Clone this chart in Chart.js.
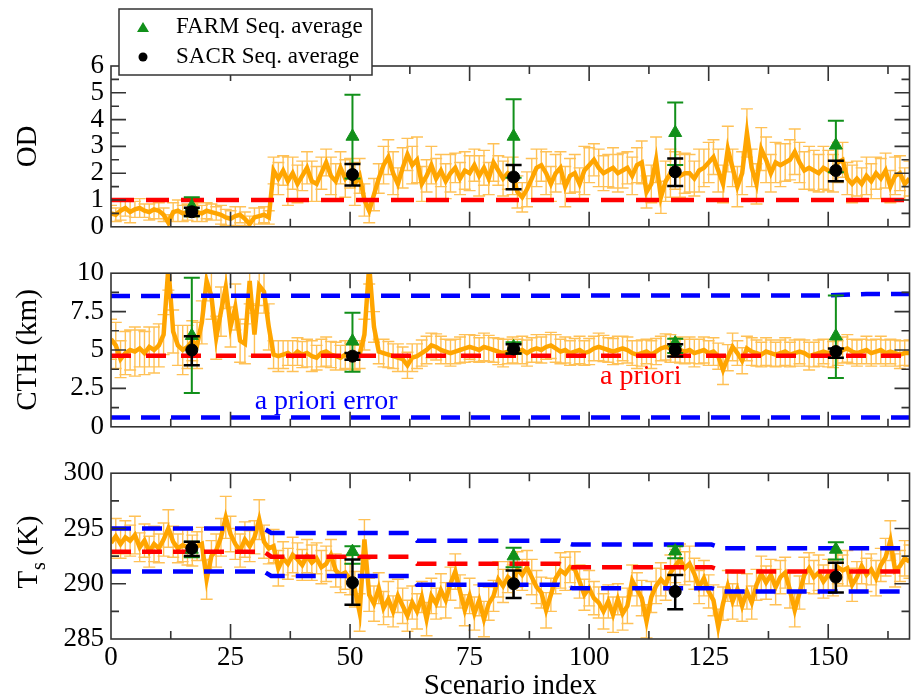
<!DOCTYPE html>
<html>
<head>
<meta charset="utf-8">
<script src="https://cdn.jsdelivr.net/npm/chart.js@4"></script>
<style>
    html, body { margin: 0; padding: 0; background: #fff; overflow: hidden; }
    #wrap { position: relative; width: 918px; height: 699px; }
    canvas { position: absolute; left: 0; }
</style>
</head>
<body>
<div id="wrap">
    <canvas id="odChart" width="918" height="250" style="top:0px"></canvas>
    <canvas id="cthChart" width="918" height="200" style="top:250px"></canvas>
    <canvas id="tsChart" width="918" height="249" style="top:450px"></canvas>
</div>
<script>
// ---- data ----
const scenarioIndex = [];
for (let i = 0; i < 168; i++) scenarioIndex.push(i);

const odValues = [
    0.50, 0.45, 0.60, 0.70, 0.55, 0.65, 0.70, 0.60, 0.55, 0.65, 0.60, 0.45,
    0.15, 0.55, 0.60, 0.50, 0.55, 0.60, 0.55, 0.50, 0.60, 0.55, 0.50, 0.45,
    0.35, 0.30, 0.40, 0.45, 0.30, 0.10, 0.35, 0.40, 0.45, 0.35, 2.10, 1.80,
    2.10, 1.70, 2.00, 1.60, 1.90, 2.20, 1.70, 1.60, 2.00, 2.40, 1.90, 1.70,
    2.20, 1.80, 2.00, 1.60, 1.90, 1.00, 0.60, 1.20, 1.80, 2.30, 2.60, 2.00,
    1.60, 2.20, 2.70, 2.30, 2.50, 1.60, 1.90, 2.30, 1.80, 2.10, 1.70, 2.00,
    2.20, 1.80, 2.10, 2.00, 2.30, 1.90, 2.20, 1.80, 2.40, 2.10, 1.80, 2.00,
    1.90, 1.30, 1.10, 1.40, 1.80, 2.20, 2.30, 2.00, 1.60, 2.00, 2.20, 1.50,
    1.90, 2.00, 1.60, 2.10, 2.30, 2.50, 2.20, 2.00, 2.10, 2.20, 2.00, 2.10,
    2.20, 1.90, 2.30, 2.40, 1.30, 1.60, 2.50, 1.10, 1.70, 2.00, 2.10, 1.90,
    2.00, 2.00, 1.80, 2.10, 2.20, 2.40, 2.60, 2.10, 1.60, 2.90, 2.20, 1.50,
    2.00, 3.50, 2.20, 1.60, 2.90, 2.50, 2.00, 2.40, 2.30, 2.40, 2.50, 2.80,
    2.40, 2.10, 2.20, 2.10, 2.00, 2.20, 2.10, 2.00, 2.40, 2.50, 1.80, 1.60,
    1.80, 1.60, 1.90, 1.70, 2.00, 1.80, 2.10, 1.50, 1.90, 2.00, 1.60, 1.80
];
const odErrors = [
    0.30, 0.25, 0.35, 0.30, 0.40, 0.30, 0.35, 0.25, 0.30, 0.35, 0.30, 0.25,
    0.30, 0.35, 0.40, 0.30, 0.30, 0.25, 0.35, 0.30, 0.30, 0.30, 0.25, 0.35,
    0.30, 0.30, 0.35, 0.30, 0.25, 0.30, 0.35, 0.30, 0.30, 0.25, 0.50, 0.60,
    0.55, 0.90, 0.60, 0.70, 0.55, 0.60, 0.75, 0.65, 0.60, 0.50, 0.70, 0.65,
    0.60, 0.70, 0.55, 0.80, 0.65, 0.60, 0.45, 0.60, 0.55, 0.70, 0.65, 0.80,
    0.60, 0.75, 0.60, 0.70, 0.85, 0.65, 0.60, 0.70, 0.75, 0.60, 0.65, 0.70,
    0.55, 0.60, 0.70, 0.65, 0.60, 0.75, 0.65, 0.60, 0.70, 0.55, 0.65, 0.60,
    0.70, 0.60, 0.55, 0.65, 0.75, 0.70, 0.60, 0.80, 0.65, 0.70, 0.60, 0.75,
    0.65, 0.70, 0.60, 0.90, 0.65, 0.60, 0.70, 0.65, 0.60, 0.75, 0.70, 0.65,
    0.60, 0.70, 0.65, 0.80, 0.60, 0.70, 0.85, 0.60, 0.75, 0.90, 0.70, 0.80,
    0.75, 0.70, 0.65, 0.80, 0.70, 0.75, 0.65, 0.80, 0.70, 0.85, 0.70, 0.75,
    0.80, 0.90, 0.70, 0.75, 0.80, 0.85, 0.70, 0.75, 0.80, 0.70, 0.75, 0.85,
    0.75, 0.70, 0.80, 0.75, 0.70, 0.80, 0.75, 0.70, 0.75, 0.65, 0.60, 0.70,
    0.65, 0.60, 0.70, 0.65, 0.60, 0.75, 0.65, 0.60, 0.70, 0.65, 0.60, 0.65
];

const cthValues = [
    5.70, 5.30, 4.40, 4.80, 5.00, 4.90, 5.10, 4.80, 5.20, 5.00, 5.30, 6.00,
    10.40, 6.20, 5.30, 5.00, 5.20, 5.60, 5.30, 6.80, 9.50, 8.50, 5.80, 7.50,
    9.10, 6.50, 7.80, 5.60, 5.40, 9.50, 6.00, 9.20, 8.80, 6.50, 4.70, 4.60,
    4.70, 4.80, 4.60, 4.90, 4.70, 4.80, 4.60, 4.50, 4.80, 4.90, 4.70, 4.60,
    4.50, 4.70, 4.60, 4.50, 4.70, 6.00, 10.50, 6.50, 4.90, 4.80, 4.70, 4.60,
    4.50, 4.40, 4.00, 4.50, 4.60, 4.80, 5.00, 5.30, 5.20, 5.00, 4.90, 4.80,
    4.90, 5.00, 5.10, 5.20, 5.10, 5.00, 5.20, 5.10, 5.00, 4.90, 4.80, 4.90,
    5.00, 4.90, 5.00, 4.80, 5.00, 5.10, 5.00, 5.20, 5.30, 5.10, 4.90, 5.00,
    4.80, 4.90, 5.00, 4.80, 4.90, 5.10, 5.20, 5.10, 5.00, 4.90, 5.00, 5.10,
    5.00, 4.80, 4.70, 4.80, 4.90, 4.70, 4.90, 5.10, 5.20, 5.10, 5.00, 5.00,
    4.90, 5.00, 4.80, 4.90, 5.00, 4.80, 4.90, 4.60, 3.70, 4.50, 5.20, 4.80,
    4.30, 5.10, 4.90, 4.80, 4.70, 4.90, 4.80, 4.70, 4.80, 4.90, 4.70, 4.80,
    4.90, 4.80, 4.60, 4.70, 4.80, 4.90, 4.80, 4.70, 4.80, 5.00, 5.10, 4.90,
    4.80, 4.90, 5.00, 4.80, 4.90, 5.00, 4.80, 4.90, 4.80, 4.70, 4.80, 4.80
];
const cthErrors = [
    1.30, 1.50, 1.20, 1.40, 1.30, 1.60, 1.20, 1.40, 1.30, 1.50, 1.40, 1.30,
    1.50, 1.40, 1.30, 1.60, 1.40, 1.30, 1.50, 1.40, 1.30, 1.50, 1.40, 1.60,
    1.40, 1.30, 1.50, 1.40, 1.30, 1.50, 1.40, 1.30, 1.40, 1.50, 0.90, 1.00,
    0.90, 0.80, 1.00, 0.90, 0.85, 0.90, 1.00, 0.80, 0.90, 0.95, 0.85, 0.90,
    0.80, 0.90, 0.85, 0.80, 0.90, 1.00, 1.20, 1.00, 0.80, 0.90, 0.85, 0.80,
    0.90, 0.80, 0.85, 0.90, 0.80, 0.85, 0.90, 0.80, 0.85, 0.90, 0.80, 0.85,
    0.80, 0.85, 0.90, 0.80, 0.85, 0.80, 0.90, 0.85, 0.80, 0.85, 0.90, 0.80,
    0.85, 0.80, 0.90, 0.85, 0.80, 0.90, 0.85, 0.80, 0.85, 0.90, 0.80, 0.85,
    0.80, 0.85, 0.90, 0.80, 0.85, 0.80, 0.90, 0.85, 0.80, 0.85, 0.90, 0.80,
    0.85, 0.80, 0.90, 0.85, 0.80, 0.90, 0.85, 0.80, 0.85, 0.90, 0.80, 0.85,
    0.80, 0.85, 0.90, 0.80, 0.85, 0.80, 0.90, 0.85, 0.95, 0.85, 0.90, 0.80,
    0.85, 0.80, 0.90, 0.85, 0.80, 0.90, 0.85, 0.80, 0.85, 0.90, 0.80, 0.85,
    0.80, 0.85, 0.90, 0.80, 0.85, 0.80, 0.90, 0.85, 0.80, 0.85, 0.90, 0.80,
    0.85, 0.80, 0.90, 0.85, 0.80, 0.90, 0.85, 0.80, 0.85, 0.90, 0.80, 0.85
];

const tsValues = [
    293.7, 294.3, 293.6, 294.2, 293.9, 294.4, 293.3, 293.9, 292.9, 293.6, 293.2, 294.0,
    295.0, 293.8, 293.2, 293.5, 293.3, 293.0, 293.4, 293.6, 290.4, 292.5, 293.0, 294.2,
    296.0, 294.5, 293.6, 293.0, 294.0, 293.4, 294.2, 295.8, 293.8, 293.2, 293.4, 291.4,
    292.3, 291.8, 292.6, 292.2, 291.7, 292.5, 291.9, 292.3, 291.5, 291.8, 292.6, 291.2,
    290.8, 291.0, 290.4, 289.5, 287.4, 294.0, 289.0, 288.2, 289.6, 287.8, 288.6, 287.5,
    288.9, 288.0, 287.1, 288.3, 287.5, 288.8, 286.8, 288.9, 288.2, 289.4, 288.5, 290.0,
    291.1, 289.3, 287.6, 288.9, 287.3, 288.5, 286.8, 288.2, 288.9, 290.4, 289.8, 290.6,
    290.2, 291.3, 290.8, 291.5, 290.6, 289.7, 289.2, 287.6, 289.0, 290.5, 291.2, 290.9,
    291.5, 291.3, 290.2, 289.0, 289.6, 288.7, 288.3, 287.5, 288.4, 287.2, 288.6, 287.3,
    288.0, 290.3, 289.5, 288.7, 286.6, 288.8, 289.8, 290.4, 289.9, 291.0, 291.6, 292.2,
    291.4, 291.8, 290.9, 289.7, 290.5, 289.3, 288.5, 286.1, 288.2, 289.8, 288.4, 289.5,
    288.0, 289.3, 288.3, 289.9, 290.9, 290.1, 290.8, 289.7, 290.6, 291.0, 289.4, 287.6,
    289.2, 290.8, 291.4, 290.6, 291.0, 290.2, 290.8, 290.5, 291.5, 291.2, 291.4, 289.9,
    290.6, 291.6, 290.8, 291.3, 290.5, 291.7, 292.4, 293.9, 291.2, 291.6, 292.3, 292.0
];
const tsErrors = [
    1.4, 1.6, 1.3, 1.5, 1.4, 1.7, 1.3, 1.5, 1.4, 1.6, 1.3, 1.5,
    1.7, 1.4, 1.3, 1.5, 1.6, 1.4, 1.3, 1.5, 1.8, 1.4, 1.5, 1.7,
    1.9, 1.6, 1.4, 1.5, 1.6, 1.4, 1.5, 1.8, 1.5, 1.4, 1.5, 1.6,
    1.5, 1.4, 1.6, 1.5, 1.4, 1.5, 1.6, 1.4, 1.5, 1.6, 1.4, 1.5,
    1.6, 1.5, 1.4, 1.6, 1.7, 1.8, 1.5, 1.6, 1.4, 1.5, 1.6, 1.4,
    1.5, 1.6, 1.4, 1.5, 1.6, 1.4, 1.5, 1.6, 1.4, 1.5, 1.6, 1.5,
    1.6, 1.5, 1.4, 1.6, 1.5, 1.4, 1.6, 1.5, 1.4, 1.6, 1.5, 1.4,
    1.5, 1.6, 1.4, 1.5, 1.6, 1.5, 1.4, 1.6, 1.5, 1.4, 1.6, 1.5,
    1.4, 1.6, 1.5, 1.4, 1.6, 1.5, 1.4, 1.6, 1.5, 1.6, 1.4, 1.5,
    1.6, 1.4, 1.5, 1.6, 1.5, 1.4, 1.6, 1.5, 1.4, 1.6, 1.5, 1.4,
    1.5, 1.6, 1.4, 1.5, 1.6, 1.5, 1.4, 1.6, 1.5, 1.4, 1.6, 1.5,
    1.4, 1.6, 1.5, 1.4, 1.6, 1.5, 1.4, 1.6, 1.5, 1.4, 1.6, 1.5,
    1.5, 1.6, 1.4, 1.5, 1.6, 1.5, 1.4, 1.6, 1.5, 1.4, 1.6, 1.5,
    1.4, 1.6, 1.5, 1.4, 1.6, 1.5, 1.7, 1.8, 1.5, 1.4, 1.6, 1.5
];

// sequence averages
const seqIndex = [16.9, 50.5, 84.2, 118.0, 151.6];
const farmOd = [0.76, 3.37, 3.37, 3.51, 3.04];
const farmOdLow = [0.39, 1.80, 1.83, 2.31, 2.04];
const farmOdHigh = [1.10, 4.93, 4.76, 4.64, 3.96];
const sacrOd = [0.56, 1.95, 1.86, 2.05, 2.10];
const sacrOdLow = [0.40, 1.54, 1.40, 1.52, 1.70];
const sacrOdHigh = [0.71, 2.34, 2.31, 2.55, 2.46];

const farmCth = [5.93, 5.57, 5.20, 5.45, 5.90];
const farmCthLow = [2.20, 3.58, 4.75, 4.80, 3.18];
const farmCthHigh = [9.70, 7.43, 5.50, 5.73, 8.55];
const sacrCth = [5.00, 4.60, 5.07, 5.00, 4.90];
const sacrCthLow = [4.00, 4.37, 4.77, 4.58, 4.50];
const sacrCthHigh = [5.90, 4.80, 5.37, 5.37, 5.10];

const farmTs = [293.1, 292.9, 292.5, 292.95, 293.1];
const farmTsLow = [292.4, 291.8, 291.5, 292.3, 292.2];
const farmTsHigh = [293.8, 293.4, 293.25, 293.4, 293.75];
const sacrTs = [293.2, 290.1, 290.0, 289.3, 290.6];
const sacrTsLow = [292.5, 288.1, 288.7, 287.7, 289.2];
const sacrTsHigh = [293.8, 292.2, 291.2, 290.8, 291.9];

// a priori and a priori error lines
const odPriorX = [0, 167];
const odPrior = [1.0, 1.0];
const cthPriorX = [0, 167];
const cthPrior = [4.62, 4.62];
const cthErrUpperX = [0, 150, 158, 167];
const cthErrUpper = [8.52, 8.55, 8.65, 8.65];
const cthErrLowerX = [0, 167];
const cthErrLower = [0.6, 0.6];
const tsStepX = [0, 32, 33.5, 62.5, 64, 93.8, 96.5, 125.6, 128, 167];
const tsPrior = [292.9, 292.9, 292.45, 292.45, 291.8, 291.8, 291.5, 291.5, 291.1, 291.1];
const tsErrUpper = [295.0, 295.0, 294.6, 294.6, 293.9, 293.9, 293.55, 293.55, 293.2, 293.2];
const tsErrLower = [291.1, 291.1, 290.7, 290.7, 289.9, 289.9, 289.6, 289.6, 289.3, 289.3];

// ---- drawing ----
const SERIF = "'Liberation Serif', 'Times New Roman', serif";
const ORANGE = '#ffa500';
const ORANGE_BAR = 'rgba(255, 172, 30, 0.75)';
const GREEN = '#11901a';
const RED = '#ff0000';
const BLUE = '#0000ff';
const X_MAX = 167;

const pts = function (xs, ys) {
    return xs.map(function (x, i) { return { x: x, y: ys[i] }; });
};

const barPath = function (ctx, xs, ys, x, lows, highs, cap) {
    ctx.beginPath();
    for (let i = 0; i < x.length; i++) {
        const px = xs.getPixelForValue(x[i]);
        const lo = ys.getPixelForValue(lows[i]);
        const hi = ys.getPixelForValue(highs[i]);
        ctx.moveTo(px, lo); ctx.lineTo(px, hi);
        ctx.moveTo(px - cap, lo); ctx.lineTo(px + cap, lo);
        ctx.moveTo(px - cap, hi); ctx.lineTo(px + cap, hi);
    }
    ctx.stroke();
};

const dashed = function (label, xs, ys, color, dash) {
    return {
        label: label, data: pts(xs, ys), borderColor: color, borderWidth: 4.5,
        borderDash: dash, pointRadius: 0, order: 5, clip: 0
    };
};

const panelPlugin = function (panel) {
    return {
        id: 'panel_' + panel.name,
        beforeDatasetsDraw: function (chart) {
            const ctx = chart.ctx, a = chart.chartArea;
            const lows = panel.values.map(function (v, i) { return v - panel.errors[i]; });
            const highs = panel.values.map(function (v, i) { return v + panel.errors[i]; });
            ctx.save();
            ctx.beginPath();
            ctx.rect(a.left, a.top, a.right - a.left, a.bottom - a.top);
            ctx.clip();
            ctx.strokeStyle = ORANGE_BAR;
            ctx.lineWidth = 1.4;
            barPath(ctx, chart.scales.x, chart.scales.y, scenarioIndex, lows, highs, 6);
            ctx.restore();
        },
        beforeDatasetDraw: function (chart, args) {
            const ds = chart.data.datasets[args.index];
            const m = panel.markers[ds.label];
            if (!m) return;
            const ctx = chart.ctx;
            ctx.save();
            ctx.strokeStyle = m.color;
            ctx.lineWidth = m.width;
            barPath(ctx, chart.scales.x, chart.scales.y, seqIndex, m.low, m.high, 8);
            ctx.restore();
        },
        afterDatasetsDraw: function (chart) {
            const ctx = chart.ctx;
            ctx.save();
            ctx.font = '28px ' + SERIF;
            ctx.textAlign = 'center';
            ctx.textBaseline = 'middle';
            (panel.notes || []).forEach(function (n) {
                ctx.fillStyle = n.color;
                ctx.fillText(n.text, chart.scales.x.getPixelForValue(n.x), chart.scales.y.getPixelForValue(n.y));
            });
            ctx.restore();
        },
        afterDraw: function (chart) {
            const ctx = chart.ctx, a = chart.chartArea;
            const xs = chart.scales.x, ys = chart.scales.y;
            ctx.save();
            ctx.strokeStyle = '#333';
            ctx.lineWidth = 1.6;
            ctx.strokeRect(a.left, a.top, a.right - a.left, a.bottom - a.top);
            ctx.beginPath();
            for (let v = 12.5; v < X_MAX; v += 12.5) {
                const px = xs.getPixelForValue(v);
                const len = (v % 25 === 0) ? 15 : 8;
                ctx.moveTo(px, a.bottom); ctx.lineTo(px, a.bottom - len);
                ctx.moveTo(px, a.top); ctx.lineTo(px, a.top + len);
            }
            const nMinor = Math.round((ys.max - ys.min) / panel.minor);
            for (let k = 1; k < nMinor; k++) {
                const v = ys.min + k * panel.minor;
                const py = ys.getPixelForValue(v);
                const len = (k % 2 === 0) ? 15 : 8;
                ctx.moveTo(a.left, py); ctx.lineTo(a.left + len, py);
                ctx.moveTo(a.right, py); ctx.lineTo(a.right - len, py);
            }
            ctx.stroke();
            ctx.restore();
            if (panel.extra) panel.extra(chart);
        }
    };
};

const drawLegend = function (chart) {
    const ctx = chart.ctx;
    ctx.save();
    ctx.fillStyle = '#fff';
    ctx.fillRect(119, 9, 253, 66);
    ctx.strokeStyle = '#333';
    ctx.lineWidth = 1.5;
    ctx.strokeRect(119, 9, 253, 66);
    ctx.fillStyle = GREEN;
    ctx.beginPath();
    ctx.moveTo(143, 22); ctx.lineTo(149, 32); ctx.lineTo(137, 32); ctx.closePath();
    ctx.fill();
    ctx.fillStyle = '#000';
    ctx.beginPath();
    ctx.arc(143, 57, 4.5, 0, Math.PI * 2);
    ctx.fill();
    ctx.font = '23px ' + SERIF;
    ctx.textBaseline = 'middle';
    ctx.fillText('FARM Seq. average', 176, 27);
    ctx.fillText('SACR Seq. average', 176, 57);
    ctx.restore();
};

const drawTsTitle = function (chart) {
    const ctx = chart.ctx, a = chart.chartArea;
    ctx.save();
    ctx.translate(29, (a.top + a.bottom) / 2 - 4);
    ctx.rotate(-Math.PI / 2);
    ctx.fillStyle = '#000';
    ctx.textBaseline = 'middle';
    ctx.font = '29px ' + SERIF;
    const wT = ctx.measureText('T').width;
    const wK = ctx.measureText(' (K)').width;
    ctx.font = '20px ' + SERIF;
    const wS = ctx.measureText('s').width;
    let x0 = -(wT + wS + wK) / 2;
    ctx.font = '29px ' + SERIF;
    ctx.fillText('T', x0, 0);
    ctx.font = '20px ' + SERIF;
    ctx.fillText('s', x0 + wT + 1, 11);
    ctx.font = '29px ' + SERIF;
    ctx.fillText(' (K)', x0 + wT + wS, 0);
    ctx.restore();
};

const makeChart = function (canvasId, panel) {
    const datasets = [{
        label: 'retrieval', data: pts(scenarioIndex, panel.values), borderColor: ORANGE,
        borderWidth: 4.5, pointRadius: 0, order: 10, clip: 0
    }].concat(panel.lines).concat([{
        label: 'FARM', data: pts(seqIndex, panel.farm), showLine: false, pointStyle: 'triangle',
        pointRadius: 7.5, pointBackgroundColor: GREEN, pointBorderColor: GREEN, pointBorderWidth: 1, order: 2
    }, {
        label: 'SACR', data: pts(seqIndex, panel.sacr), showLine: false, pointStyle: 'circle',
        pointRadius: 6, pointBackgroundColor: '#000', pointBorderColor: '#000', pointBorderWidth: 1, order: 1
    }]);

    const xAxis = {
        type: 'linear', min: 0, max: X_MAX, display: panel.showX,
        ticks: { stepSize: 25, includeBounds: false, autoSkip: false, maxRotation: 0, padding: 3,
            color: '#000', font: { family: SERIF, size: 27 } },
        grid: { display: false, drawTicks: false },
        border: { display: false },
        title: { display: true, text: 'Scenario index', color: '#000', padding: { top: 0, bottom: 0 },
            font: { family: SERIF, size: 29, lineHeight: 0.9 } }
    };
    if (panel.showX) xAxis.afterFit = function (s) { s.height = 60; };

    return new Chart(document.getElementById(canvasId), {
        type: 'line',
        data: { datasets: datasets },
        plugins: [panelPlugin(panel)],
        options: {
            responsive: false,
            animation: false,
            events: [],
            layout: { padding: { top: panel.padTop, bottom: panel.padBottom, left: 0, right: 2 } },
            plugins: { legend: { display: false }, tooltip: { enabled: false } },
            scales: {
                x: xAxis,
                y: {
                    min: panel.min, max: panel.max,
                    ticks: { stepSize: panel.step, autoSkip: false, padding: 7, color: '#000',
                        font: { family: SERIF, size: 27 } },
                    grid: { display: false, drawTicks: false },
                    border: { display: false },
                    title: { display: !!panel.title, text: panel.title, color: '#000', padding: { top: 14, bottom: 0 },
                        font: { family: SERIF, size: 29, lineHeight: 1 } },
                    afterFit: function (s) { s.width = 111; }
                }
            }
        }
    });
};

makeChart('odChart', {
    name: 'od', values: odValues, errors: odErrors, farm: farmOd, sacr: sacrOd,
    markers: {
        FARM: { low: farmOdLow, high: farmOdHigh, color: GREEN, width: 2 },
        SACR: { low: sacrOdLow, high: sacrOdHigh, color: '#000', width: 2.5 }
    },
    lines: [dashed('a priori', odPriorX, odPrior, RED, [23, 12])],
    min: 0, max: 6, step: 1, minor: 0.5, title: 'OD',
    padTop: 66, padBottom: 15, showX: false,
    extra: drawLegend
});

makeChart('cthChart', {
    name: 'cth', values: cthValues, errors: cthErrors, farm: farmCth, sacr: sacrCth,
    markers: {
        FARM: { low: farmCthLow, high: farmCthHigh, color: GREEN, width: 2 },
        SACR: { low: sacrCthLow, high: sacrCthHigh, color: '#000', width: 2.5 }
    },
    lines: [
        dashed('a priori', cthPriorX, cthPrior, RED, [20, 15]),
        dashed('error up', cthErrUpperX, cthErrUpper, BLUE, [19, 11]),
        dashed('error low', cthErrLowerX, cthErrLower, BLUE, [19, 11])
    ],
    notes: [
        { text: 'a priori error', x: 45, y: 1.65, color: BLUE },
        { text: 'a priori', x: 110.8, y: 3.26, color: RED }
    ],
    min: 0, max: 10, step: 2.5, minor: 1.25, title: 'CTH (km)',
    padTop: 19, padBottom: 13, showX: false
});

makeChart('tsChart', {
    name: 'ts', values: tsValues, errors: tsErrors, farm: farmTs, sacr: sacrTs,
    markers: {
        FARM: { low: farmTsLow, high: farmTsHigh, color: GREEN, width: 2 },
        SACR: { low: sacrTsLow, high: sacrTsHigh, color: '#000', width: 2.5 }
    },
    lines: [
        dashed('a priori', tsStepX, tsPrior, RED, [20, 11]),
        dashed('error up', tsStepX, tsErrUpper, BLUE, [20, 11]),
        dashed('error low', tsStepX, tsErrLower, BLUE, [20, 11])
    ],
    min: 285, max: 300, step: 5, minor: 2.5, title: '',
    padTop: 21, padBottom: 0, showX: true,
    extra: drawTsTitle
});
</script>
</body>
</html>
